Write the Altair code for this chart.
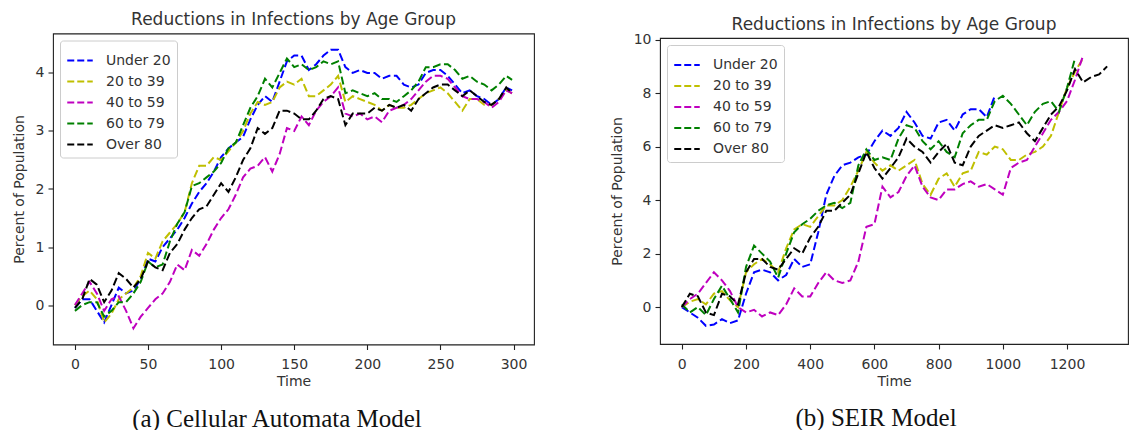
import altair as alt
import pandas as pd

GROUPS = ["Under 20", "20 to 39", "40 to 59", "60 to 79", "Over 80"]
COLORS = ["#0000ff", "#bfbf00", "#bf00bf", "#008000", "#000000"]

# ---- (a) Cellular Automata Model ----
CA_TIME = list(range(0, 300, 5)) + [299]
CA_X_TICKS = [0, 50, 100, 150, 200, 250, 300]
CA_Y_TICKS = [0, 1, 2, 3, 4]
CA_UNDER20 = [-0.05, 0.1, 0.1, -0.1, -0.3, 0.0, 0.3, 0.2, 0.25, 0.45,
              0.8, 0.75, 1.0, 1.15, 1.3, 1.5, 1.75, 1.95, 2.1, 2.3,
              2.55, 2.7, 2.8, 2.9, 3.2, 3.45, 3.6, 3.5, 3.85, 4.2,
              4.3, 4.3, 4.05, 4.15, 4.3, 4.4, 4.4, 4.1, 4.0, 4.05,
              4.0, 4.0, 3.9, 3.95, 3.95, 3.8, 3.75, 3.8, 4.0, 4.05,
              4.05, 3.95, 3.8, 3.65, 3.7, 3.6, 3.55, 3.45, 3.55, 3.75,
              3.7]
CA_20TO39 = [0.0, 0.15, 0.25, 0.1, -0.3, -0.15, 0.1, 0.2, 0.3, 0.5,
             0.9, 0.8, 1.1, 1.25, 1.4, 1.6, 2.1, 2.4, 2.4, 2.55,
             2.5, 2.65, 2.8, 3.0, 3.3, 3.5, 3.45, 3.5, 3.75, 3.85,
             3.8, 3.9, 3.6, 3.6, 3.7, 3.8, 3.95, 3.5, 3.6, 3.55,
             3.5, 3.45, 3.35, 3.45, 3.4, 3.4, 3.45, 3.55, 3.65, 3.7,
             3.75, 3.65, 3.5, 3.35, 3.55, 3.55, 3.45, 3.45, 3.55, 3.7,
             3.65]
CA_40TO59 = [0.0, 0.2, 0.4, 0.2, -0.1, 0.1, 0.15, -0.1, -0.4, -0.2,
             -0.05, 0.1, 0.2, 0.4, 0.7, 0.6, 0.95, 0.85, 1.05, 1.3,
             1.5, 1.65, 1.9, 2.2, 2.35, 2.4, 2.55, 2.3, 2.6, 3.05,
             3.0, 3.25, 3.1, 3.35, 3.5, 3.6, 3.75, 3.3, 3.25, 3.3,
             3.2, 3.25, 3.15, 3.35, 3.4, 3.45, 3.55, 3.7, 3.85, 3.95,
             3.95, 3.9, 3.75, 3.6, 3.55, 3.55, 3.5, 3.4, 3.5, 3.7,
             3.65]
CA_60TO79 = [-0.1, 0.0, 0.05, 0.05, -0.2, -0.1, 0.05, 0.05, 0.2, 0.4,
             0.75, 0.65, 0.7, 1.1, 1.4, 1.6, 2.05, 2.1, 2.2, 2.3,
             2.45, 2.7, 2.8, 3.1, 3.4, 3.6, 3.9, 3.75, 4.0, 4.25,
             4.1, 4.15, 4.05, 4.1, 4.2, 4.15, 4.2, 3.65, 3.7, 3.65,
             3.6, 3.65, 3.55, 3.55, 3.5, 3.6, 3.7, 3.85, 4.1, 4.1,
             4.15, 4.15, 4.05, 3.9, 3.95, 3.85, 3.8, 3.7, 3.8, 3.95,
             3.88]
CA_OVER80 = [-0.05, 0.1, 0.45, 0.35, 0.05, 0.25, 0.55, 0.45, 0.3, 0.45,
             0.75, 0.65, 0.6, 0.9, 1.05, 1.3, 1.5, 1.65, 1.7, 1.9,
             2.1, 1.95, 2.2, 2.5, 2.7, 3.05, 2.95, 3.05, 3.35, 3.35,
             3.3, 3.2, 3.2, 3.35, 3.55, 3.6, 3.55, 3.1, 3.3, 3.3,
             3.3, 3.4, 3.35, 3.45, 3.4, 3.45, 3.35, 3.55, 3.65, 3.75,
             3.8, 3.8, 3.7, 3.6, 3.7, 3.6, 3.5, 3.45, 3.55, 3.75,
             3.65]

# ---- (b) SEIR Model ----
SEIR_TIME = list(range(0, 1326, 25))
SEIR_X_TICKS = [0, 200, 400, 600, 800, 1000, 1200]
SEIR_Y_TICKS = [0, 2, 4, 6, 8, 10]
SEIR_UNDER20 = [0.0, -0.2, -0.4, -0.7, -0.65, -0.45, -0.6, -0.5, 0.5, 1.3,
                1.4, 1.3, 1.0, 1.2, 1.8, 1.5, 1.6, 2.8, 4.2, 4.9,
                5.3, 5.4, 5.6, 5.7, 6.2, 6.6, 6.4, 6.7, 7.3, 6.9,
                6.4, 6.3, 6.9, 7.0, 6.6, 7.2, 7.4, 7.4, 7.1, 7.9]
SEIR_20TO39 = [0.0, 0.2, 0.3, 0.1, 0.5, 0.6, 0.25, 0.0, 1.3, 1.6,
               1.8, 1.6, 1.3, 2.2, 2.9, 3.1, 3.0, 3.4, 3.8, 3.8,
               4.0, 4.5, 5.1, 5.8, 5.4, 5.1, 5.3, 5.1, 5.3, 5.5,
               4.6, 4.2, 4.8, 5.0, 4.5, 5.0, 5.1, 5.8, 5.7, 6.0,
               5.9, 5.5, 5.5, 5.7, 5.8, 6.0, 6.4, 7.3, 8.2, 8.8,
               9.3]
SEIR_40TO59 = [0.0, 0.3, 0.5, 0.9, 1.3, 1.0, 0.6, 0.0, -0.2, -0.1,
               -0.35, -0.2, -0.3, 0.1, 0.7, 0.4, 0.4, 0.9, 1.3, 1.0,
               0.9, 1.0, 1.7, 3.0, 3.1, 4.5, 4.1, 4.3, 4.9, 5.3,
               4.5, 4.1, 4.0, 4.4, 4.4, 4.6, 4.7, 4.5, 4.6, 4.4,
               4.2, 5.2, 5.4, 5.5, 6.0, 6.5, 7.0, 7.3, 7.7, 8.5,
               9.4]
SEIR_60TO79 = [0.1, -0.2, 0.0, -0.3, 0.3, 0.8, 0.3, -0.2, 1.5, 2.3,
               2.0, 1.7, 1.1, 2.0, 2.8, 3.1, 3.3, 3.6, 3.8, 3.9,
               3.7, 3.9, 5.3, 5.9, 5.5, 5.6, 5.5, 6.3, 6.8, 6.7,
               6.2, 5.9, 6.2, 5.8, 5.6, 6.5, 6.8, 7.0, 7.0, 7.7,
               7.9, 7.6, 7.2, 6.8, 7.3, 7.6, 7.7, 7.3, 8.2, 9.3]
SEIR_OVER80 = [0.0, 0.5, 0.4, -0.2, -0.3, 0.5, 0.4, 0.1, 1.3, 1.8,
               1.8, 1.5, 1.4, 1.8, 2.2, 2.0, 2.6, 3.0, 3.6, 3.6,
               3.9, 4.2, 5.0, 5.8, 5.2, 4.8, 5.2, 5.6, 6.3, 6.0,
               5.8, 5.4, 5.8, 6.1, 5.4, 5.3, 6.0, 6.4, 6.6, 6.8,
               6.7, 6.8, 6.9, 6.5, 6.2, 6.7, 7.2, 7.5, 8.1, 8.9,
               8.4, 8.6, 8.7, 9.0]

TITLE = "Reductions in Infections by Age Group"


def long_df(time, series):
    rows = []
    for g, vals in zip(GROUPS, series):
        for t, v in zip(time, vals):
            rows.append({"Time": t, "Value": v, "Group": g})
    return pd.DataFrame(rows)


def panel(df, xdom, ydom, xticks, yticks, w, h, title_offset):
    legend = alt.Legend(
        title=None, orient="top-left", offset=7, padding=6,
        fillColor="white", strokeColor="#cccccc", cornerRadius=3,
        symbolType="stroke", symbolStrokeWidth=2, symbolDash=[7, 3],
        symbolSize=650, labelFont="DejaVu Sans", labelFontSize=14,
        labelColor="#333333", labelOffset=12, rowPadding=0,
    )
    lines = alt.Chart(df).mark_line(strokeWidth=2, strokeDash=[8, 3.5], clip=True).encode(
        x=alt.X("Time:Q", scale=alt.Scale(domain=xdom, nice=False, zero=False),
                axis=alt.Axis(values=xticks, title="Time", format="d", labelFlush=False)),
        y=alt.Y("Value:Q", scale=alt.Scale(domain=ydom, nice=False, zero=False),
                axis=alt.Axis(values=yticks, title="Percent of Population", format="d", labelFlush=False)),
        color=alt.Color("Group:N", scale=alt.Scale(domain=GROUPS, range=COLORS),
                        sort=GROUPS, legend=legend),
    )
    return lines.properties(
        width=w, height=h,
        title=alt.TitleParams(TITLE, font="DejaVu Sans", fontSize=17, fontWeight="normal",
                              color="#333333", offset=title_offset, anchor="middle", frame="group"),
    )


def spacer():
    return alt.Chart(pd.DataFrame({"a": [0]})).mark_point(opacity=0).encode(
        x=alt.value(0), y=alt.value(0)
    ).properties(width=1, height=1, view=alt.ViewBackground(stroke="transparent"))


def caption(text, offset, dx):
    return alt.TitleParams(text, orient="bottom", font="Liberation Serif", fontSize=25,
                           fontWeight="normal", color="#111111", anchor="middle",
                           offset=offset, dx=dx)


df_ca = long_df(CA_TIME, [CA_UNDER20, CA_20TO39, CA_40TO59, CA_60TO79, CA_OVER80])
df_seir = long_df(SEIR_TIME, [SEIR_UNDER20, SEIR_20TO39, SEIR_40TO59, SEIR_60TO79, SEIR_OVER80])

left = alt.vconcat(
    spacer(),
    panel(df_ca, [-15, 314], [-0.68, 4.68], CA_X_TICKS, CA_Y_TICKS, 481, 311, 4.5),
    spacing=0,
    title=caption("(a) Cellular Automata Model", 18, 4),
).resolve_legend(color="independent")
right = alt.vconcat(
    spacer(),
    panel(df_seir, [-68, 1390], [-1.38, 10.06], SEIR_X_TICKS, SEIR_Y_TICKS, 468, 306, -1.5),
    spacing=5.5,
    title=caption("(b) SEIR Model", 17, 7),
).resolve_legend(color="independent")

chart = alt.hconcat(left, right, spacing=74).resolve_scale(
    color="independent").resolve_legend(color="independent").properties(
    padding={"left": 11, "top": 1.5, "right": 0, "bottom": 0},
    background="white",
).configure_view(
    stroke="#222222", strokeWidth=1.1
).configure_axis(
    grid=False, domain=False, labelFont="DejaVu Sans", labelFontSize=14,
    labelColor="#333333", titleFont="DejaVu Sans", titleFontSize=14,
    titleFontWeight="normal", titleColor="#333333", tickColor="#222222",
    tickSize=5, tickWidth=1.1, labelPadding=4,
).configure_axisY(titlePadding=9).configure_axisX(titlePadding=3, labelPadding=8)

chart.save("out.html", embed_options={"renderer": "svg", "actions": False})
